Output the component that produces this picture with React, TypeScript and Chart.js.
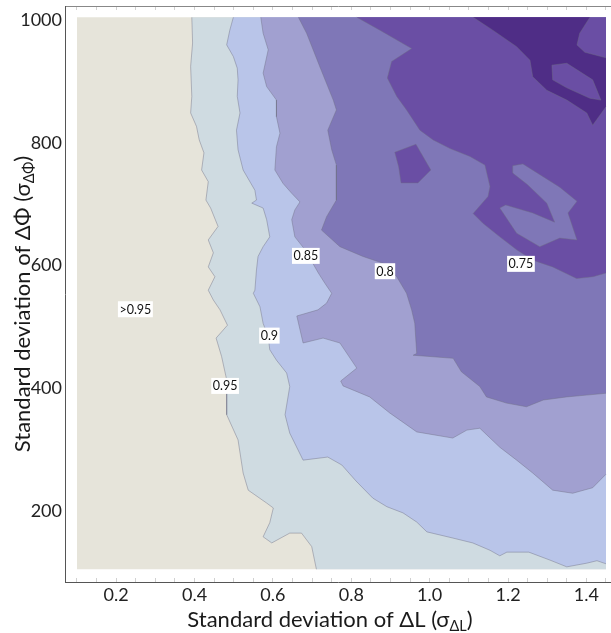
import React, { useEffect, useRef } from "react";
import { Chart, registerables } from "chart.js";

Chart.register(...registerables);

type Pt = [number, number];

const X_MIN = 0.1;
const X_MAX = 1.45;
const Y_MIN = 100;
const Y_MAX = 1000;

const xTickValues = [0.2, 0.4, 0.6, 0.8, 1.0, 1.2, 1.4];
const xMinorTickValues = [
  0.1, 0.15, 0.2, 0.25, 0.3, 0.35, 0.4, 0.45, 0.5, 0.55, 0.6, 0.65, 0.7, 0.75, 0.8, 0.85, 0.9, 0.95,
  1.0, 1.05, 1.1, 1.15, 1.2, 1.25, 1.3, 1.35, 1.4, 1.45,
];
const yTickValues = [200, 400, 600, 800, 1000];

// contour boundaries (x = sigma dL, y = sigma dPhi)
const contour095: Pt[] = [
  [0.393, 1000], [0.395, 958], [0.39, 920], [0.393, 871], [0.39, 844], [0.405, 822], [0.412, 800],
  [0.424, 779], [0.418, 751], [0.435, 732], [0.429, 702], [0.441, 689], [0.46, 659], [0.435, 637],
  [0.448, 616], [0.435, 593], [0.452, 577], [0.435, 555], [0.448, 539], [0.465, 523], [0.484, 498],
  [0.455, 477], [0.469, 447], [0.482, 409], [0.482, 352], [0.511, 311], [0.524, 257], [0.537, 229],
  [0.584, 208], [0.601, 200], [0.592, 176], [0.575, 153], [0.597, 143], [0.643, 159], [0.673, 159],
  [0.699, 137], [0.711, 100],
];

const contour090: Pt[] = [
  [0.499, 1000], [0.49, 979], [0.482, 955], [0.499, 936], [0.509, 917], [0.511, 898], [0.509, 871],
  [0.516, 844], [0.507, 816], [0.511, 784], [0.524, 751], [0.554, 718], [0.558, 702], [0.546, 697],
  [0.575, 689], [0.584, 670], [0.592, 642], [0.575, 626], [0.562, 610], [0.558, 588], [0.554, 555],
  [0.55, 550], [0.567, 528], [0.575, 501], [0.588, 479], [0.592, 458], [0.609, 441], [0.635, 420],
  [0.643, 398], [0.631, 352], [0.643, 322], [0.677, 278], [0.74, 283], [0.776, 270], [0.812, 244],
  [0.855, 216], [0.891, 202], [0.932, 192], [0.967, 177], [0.993, 161], [1.059, 151], [1.11, 143],
  [1.154, 131], [1.179, 122], [1.197, 128], [1.253, 128], [1.307, 115], [1.35, 104], [1.401, 110],
  [1.427, 114], [1.45, 109],
];

const contour085: Pt[] = [
  [0.569, 1000], [0.575, 974], [0.588, 947], [0.575, 909], [0.584, 887], [0.609, 865], [0.609, 838],
  [0.618, 811], [0.609, 789], [0.605, 751], [0.626, 729], [0.648, 713], [0.669, 699], [0.656, 686],
  [0.648, 670], [0.656, 642], [0.682, 621], [0.699, 602], [0.716, 583], [0.733, 566], [0.75, 550],
  [0.737, 534], [0.715, 523], [0.661, 513], [0.677, 469], [0.728, 477], [0.771, 469], [0.814, 428],
  [0.773, 407], [0.779, 399], [0.847, 381], [0.898, 355], [0.967, 324], [1.059, 314], [1.095, 327],
  [1.128, 330], [1.179, 299], [1.222, 278], [1.263, 257], [1.314, 229], [1.365, 224], [1.416, 233],
  [1.45, 255],
];

const contour080: Pt[] = [
  [0.665, 1000], [0.686, 974], [0.72, 919], [0.754, 865], [0.762, 849], [0.74, 816], [0.75, 784],
  [0.762, 759], [0.762, 702], [0.737, 675], [0.724, 653], [0.771, 626], [0.83, 610], [0.881, 599],
  [0.916, 577], [0.941, 550], [0.954, 523], [0.962, 501], [0.967, 452], [0.958, 449], [1.06, 444],
  [1.081, 422], [1.128, 398], [1.145, 381], [1.196, 371], [1.247, 365], [1.29, 376], [1.349, 381],
  [1.4, 384], [1.45, 387],
];

const contour075: Pt[] = [
  [0.814, 1000], [0.873, 979], [0.954, 949], [0.903, 928], [0.892, 901], [0.916, 871], [0.941, 849],
  [0.975, 816], [1.009, 800], [1.052, 786], [1.103, 773], [1.141, 759], [1.154, 724], [1.149, 708],
  [1.111, 680], [1.136, 664], [1.179, 642], [1.222, 621], [1.263, 604], [1.314, 593], [1.375, 574],
  [1.417, 577], [1.45, 583],
];

const island075a: Pt[] = [
  [0.911, 780], [0.965, 793], [1.003, 751], [0.97, 730], [0.927, 730], [0.921, 756], [0.911, 780],
];

const island080: Pt[] = [
  [1.212, 758], [1.238, 761], [1.332, 723], [1.376, 700], [1.353, 681], [1.376, 637], [1.332, 640],
  [1.281, 626], [1.222, 648], [1.179, 689], [1.194, 694], [1.263, 681], [1.319, 666], [1.299, 697],
  [1.25, 727], [1.212, 746], [1.212, 758],
];

const region070: Pt[] = [
  [1.111, 1000], [1.409, 1000], [1.383, 974], [1.376, 955], [1.396, 943], [1.45, 934], [1.45, 854],
  [1.416, 824], [1.401, 844], [1.35, 865], [1.299, 881], [1.263, 903], [1.256, 930], [1.222, 952],
  [1.161, 979], [1.111, 1000],
];

const island075b: Pt[] = [
  [1.312, 922], [1.35, 925], [1.416, 898], [1.437, 865], [1.409, 868], [1.35, 885], [1.314, 898],
  [1.312, 922],
];

const bandColors = ["#e6e4da", "#cfdbe1", "#b9c5e9", "#a1a0d0", "#7f77b7", "#6a4ea4", "#4f2d86"];

const contourLabels = [">0.95", "0.95", "0.9", "0.85", "0.8", "0.75"];
const contourLabelX = [0.249, 0.478, 0.591, 0.684, 0.886, 1.233];
const contourLabelY = [524, 399, 481, 611, 586, 598];

const FONT = "Lato, 'Open Sans', sans-serif";
const LINE_COLOR = "rgba(110,110,130,0.55)";

const polygons: { pts: Pt[]; band: number }[] = [
  { pts: [[X_MIN, Y_MIN], [X_MAX, Y_MIN], [X_MAX, Y_MAX], [X_MIN, Y_MAX], [X_MIN, Y_MIN]], band: 0 },
  { pts: [...contour095, [X_MAX, Y_MIN], [X_MAX, Y_MAX], contour095[0]], band: 1 },
  { pts: [...contour090, [X_MAX, Y_MAX], contour090[0]], band: 2 },
  { pts: [...contour085, [X_MAX, Y_MAX], contour085[0]], band: 3 },
  { pts: [...contour080, [X_MAX, Y_MAX], contour080[0]], band: 4 },
  { pts: island075a, band: 5 },
  { pts: [...contour075, [X_MAX, Y_MAX], contour075[0]], band: 5 },
  { pts: island080, band: 4 },
  { pts: region070, band: 6 },
  { pts: island075b, band: 5 },
];

const near = (a: number, b: number) => Math.abs(a - b) < 1e-6;
const edgeSegment = (a: Pt, b: Pt) =>
  (near(a[0], X_MIN) && near(b[0], X_MIN)) ||
  (near(a[0], X_MAX) && near(b[0], X_MAX)) ||
  (near(a[1], Y_MIN) && near(b[1], Y_MIN)) ||
  (near(a[1], Y_MAX) && near(b[1], Y_MAX));

const polygonFillPlugin = {
  id: "polygonFill",
  beforeDatasetDraw(chart: any, args: any) {
    const ds = chart.data.datasets[args.index];
    const pts = args.meta.data;
    if (!pts || !pts.length) return;
    const ctx = chart.ctx;
    ctx.save();
    ctx.beginPath();
    pts.forEach((p: any, i: number) => (i ? ctx.lineTo(p.x, p.y) : ctx.moveTo(p.x, p.y)));
    ctx.closePath();
    ctx.fillStyle = ds.backgroundColor;
    ctx.fill();
    ctx.restore();
  },
};

const labelPlugin = {
  id: "contourLabels",
  afterDatasetsDraw(chart: any) {
    const ctx = chart.ctx;
    const xs = chart.scales.x;
    const ys = chart.scales.y;
    ctx.save();
    ctx.font = `12.5px ${FONT}`;
    ctx.textAlign = "center";
    ctx.textBaseline = "middle";
    contourLabels.forEach((t, i) => {
      const px = xs.getPixelForValue(contourLabelX[i]);
      const py = ys.getPixelForValue(contourLabelY[i]);
      const w = ctx.measureText(t).width + 3;
      const h = 16;
      ctx.fillStyle = "#ffffff";
      ctx.fillRect(px - w / 2, py - h / 2, w, h);
      ctx.fillStyle = "#111111";
      ctx.fillText(t, px, py + 0.5);
    });
    ctx.restore();
  },
};

type Part = { text: string; size: number; dy: number };
function drawRich(ctx: CanvasRenderingContext2D, parts: Part[], x: number, y: number, angle: number) {
  ctx.save();
  ctx.translate(x, y);
  ctx.rotate(angle);
  ctx.textAlign = "left";
  ctx.textBaseline = "alphabetic";
  ctx.fillStyle = "#1a1a1a";
  const widths = parts.map((p) => {
    ctx.font = `${p.size}px ${FONT}`;
    return ctx.measureText(p.text).width;
  });
  const total = widths.reduce((a, b) => a + b, 0);
  let cx = -total / 2;
  parts.forEach((p, i) => {
    ctx.font = `${p.size}px ${FONT}`;
    ctx.fillText(p.text, cx, p.dy);
    cx += widths[i];
  });
  ctx.restore();
}

const xTitle: Part[] = [
  { text: "Standard deviation of \u0394L (\u03C3", size: 22, dy: 0 },
  { text: "\u0394L", size: 14.5, dy: 4 },
  { text: ")", size: 22, dy: 0 },
];
const yTitle: Part[] = [
  { text: "Standard deviation of \u0394\u03A6 (\u03C3", size: 22, dy: 0 },
  { text: "\u0394\u03A6", size: 14.5, dy: 4 },
  { text: ")", size: 22, dy: 0 },
];

const titlePlugin = {
  id: "axisTitles",
  afterDraw(chart: any) {
    const ctx = chart.ctx;
    drawRich(ctx, xTitle, 330, 627, 0);
    drawRich(ctx, yTitle, 30, 304, -Math.PI / 2);
  },
};

export default function App() {
  const ref = useRef<HTMLCanvasElement | null>(null);

  useEffect(() => {
    if (!ref.current) return;
    const datasets = polygons.map((poly, i) => ({
      data: poly.pts.map(([x, y]) => ({ x, y })),
      showLine: true,
      fill: false,
      tension: 0,
      pointRadius: 0,
      pointHoverRadius: 0,
      borderWidth: 0.8,
      borderColor: LINE_COLOR,
      backgroundColor: bandColors[poly.band],
      order: polygons.length - i,
      segment: {
        borderColor: (c: any) =>
          edgeSegment(poly.pts[c.p0DataIndex], poly.pts[c.p1DataIndex]) ? "rgba(0,0,0,0)" : LINE_COLOR,
      },
    }));

    const tickFont = { family: FONT, size: 18 };
    const minorGrid = {
      display: true,
      drawOnChartArea: false,
      drawTicks: true,
      tickLength: -4,
      color: "rgba(0,0,0,0.18)",
      lineWidth: 1,
    };

    const chart = new Chart(ref.current, {
      type: "scatter",
      data: { datasets },
      options: {
        responsive: false,
        animation: false,
        events: [],
        layout: { padding: 0 },
        plugins: { legend: { display: false }, tooltip: { enabled: false }, title: { display: false } },
        scales: {
          x: {
            type: "linear",
            position: "bottom",
            min: 0.0694,
            max: 1.4628,
            afterBuildTicks: (s: any) => {
              s.ticks = xMinorTickValues.map((v) => ({ value: v }));
            },
            ticks: {
              font: tickFont,
              color: "#222",
              padding: 6,
              maxRotation: 0,
              autoSkip: false,
              callback: (v: any) => {
                const n = Number(v);
                return xTickValues.some((t) => Math.abs(t - n) < 1e-6) ? n.toFixed(1) : "";
              },
            },
            grid: minorGrid,
            border: { display: true, color: "#555", width: 1 },
            afterFit: (s: any) => {
              s.height = 51;
              s.paddingLeft = 0;
              s.paddingRight = 0;
            },
          },
          x2: {
            type: "linear",
            position: "top",
            min: 0.0694,
            max: 1.4628,
            afterBuildTicks: (s: any) => {
              s.ticks = xMinorTickValues.map((v) => ({ value: v }));
            },
            ticks: { display: false },
            grid: minorGrid,
            border: { display: true, color: "#888", width: 1 },
            afterFit: (s: any) => {
              s.height = 6;
              s.paddingLeft = 0;
              s.paddingRight = 0;
            },
          },
          y: {
            type: "linear",
            position: "left",
            min: 79.3,
            max: 1018.4,
            afterBuildTicks: (s: any) => {
              s.ticks = yTickValues.map((v) => ({ value: v }));
            },
            ticks: {
              font: tickFont,
              color: "#222",
              padding: 3,
              labelOffset: 3,
              autoSkip: false,
              callback: (v: any) => String(v),
            },
            grid: { display: false, drawTicks: false },
            border: { display: true, color: "#555", width: 1 },
            afterFit: (s: any) => {
              s.width = 65;
              s.paddingTop = 0;
              s.paddingBottom = 0;
            },
          },
        },
      },
      plugins: [polygonFillPlugin, labelPlugin, titlePlugin],
    } as any);

    return () => chart.destroy();
  }, []);

  return (
    <div style={{ position: "fixed", left: 0, top: 0, width: 611, height: 633, background: "#fff", overflow: "hidden" }}>
      <canvas ref={ref} width={611} height={633} style={{ display: "block", width: 611, height: 633 }} />
    </div>
  );
}
